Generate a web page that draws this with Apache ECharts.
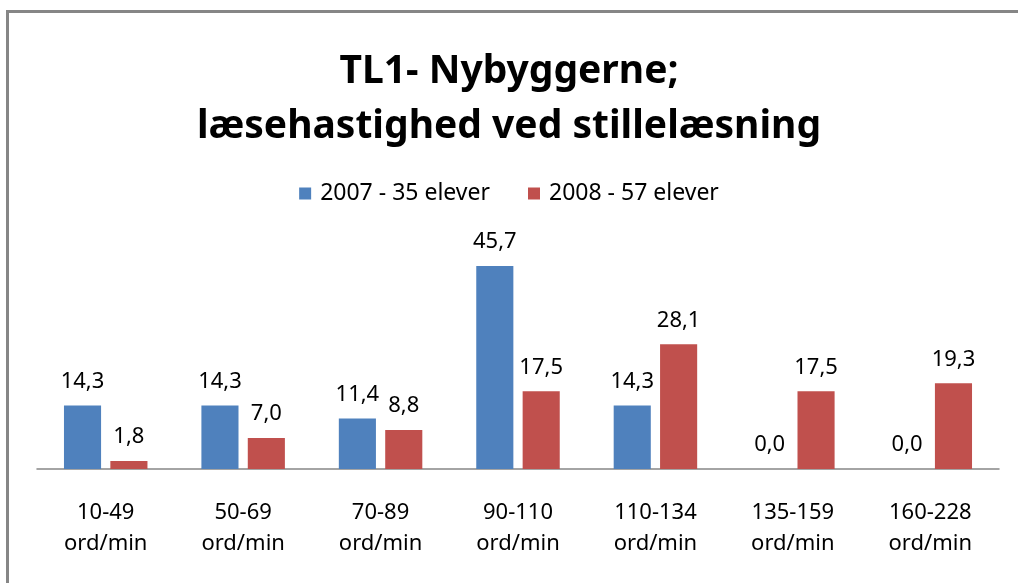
<!DOCTYPE html>
<html>
<head>
<meta charset="utf-8">
<script src="https://cdn.jsdelivr.net/npm/echarts@6/dist/echarts.min.js"></script>
<style>
  html, body { margin: 0; padding: 0; background: #fff; }
  #main { width: 1018px; height: 583px; }
</style>
</head>
<body>
<div id="main"></div>
<script>
let categories = ['10-49\nord/min', '50-69\nord/min', '70-89\nord/min', '90-110\nord/min',
    '110-134\nord/min', '135-159\nord/min', '160-228\nord/min'];
let serie2007 = [14.3, 14.3, 11.4, 45.7, 14.3, 0.0, 0.0];
let serie2008 = [1.8, 7.0, 8.8, 17.5, 28.1, 17.5, 19.3];
let seriesNames = ['2007 - 35 elever', '2008 - 57 elever'];

let font = 'Noto Sans';
let chart = echarts.init(document.getElementById('main'));

// tal med komma som decimaltegn
const fmt = p => p.value.toFixed(1).replace('.', ',');

chart.setOption({
    backgroundColor: '#fff',
    animation: false,
    title: {
        text: 'TL1- Nybyggerne;\nlæsehastighed ved stillelæsning',
        left: 'center',
        top: 39,
        textStyle: {
            fontFamily: font,
            fontWeight: 'bold',
            fontSize: 39,
            lineHeight: 55,
            color: '#000'
        }
    },
    legend: {
        top: 177,
        left: 'center',
        itemWidth: 12,
        itemHeight: 12,
        itemGap: 38,
        icon: 'rect',
        textStyle: { fontFamily: font, fontSize: 23, color: '#000', padding: [0, 0, 0, 4] },
        data: seriesNames
    },
    graphic: [{
        type: 'rect',
        shape: { x: 7.5, y: 11.5, width: 1100, height: 700 },
        style: { fill: 'none', stroke: '#868686', lineWidth: 3 },
        silent: true
    }],
    grid: { left: 37, right: 19, top: 247, bottom: 114 },
    xAxis: {
        type: 'category',
        data: categories,
        axisTick: { show: false },
        axisLine: { lineStyle: { color: '#868686', width: 1.5 } },
        axisLabel: {
            fontFamily: font,
            fontSize: 22,
            lineHeight: 31,
            color: '#000',
            margin: 28,
            interval: 0
        }
    },
    yAxis: {
        type: 'value',
        min: 0,
        max: 50,
        show: false,
        splitLine: { show: false }
    },
    series: [{
        name: seriesNames[0],
        type: 'bar',
        data: serie2007,
        barWidth: '27%',
        barGap: '25%',
        itemStyle: { color: '#4F81BD' },
        label: {
            show: true, position: 'top', distance: 13, formatter: fmt,
            fontFamily: font, fontSize: 22, color: '#000'
        }
    }, {
        name: seriesNames[1],
        type: 'bar',
        data: serie2008,
        barWidth: '27%',
        itemStyle: { color: '#C0504D' },
        label: {
            show: true, position: 'top', distance: 13, formatter: fmt,
            fontFamily: font, fontSize: 22, color: '#000'
        }
    }]
});
</script>
</body>
</html>
